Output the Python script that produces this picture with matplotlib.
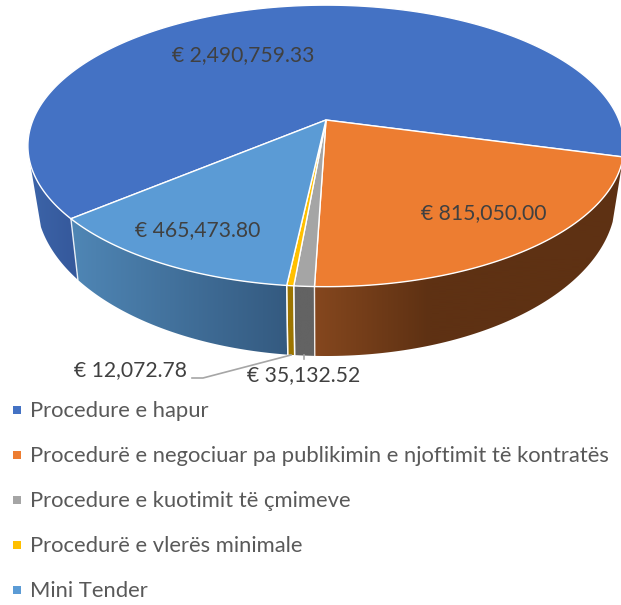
import numpy as np
import matplotlib
matplotlib.use('Agg')
import matplotlib.pyplot as plt
from matplotlib.colors import LinearSegmentedColormap
from matplotlib.patches import Polygon

names = ['Procedure e hapur',
         'Procedurë e negociuar pa publikimin e njoftimit të kontratës',
         'Procedure e kuotimit të çmimeve',
         'Procedurë e vlerës minimale',
         'Mini Tender']
values = [2490759.33, 815050.00, 35132.52, 12072.78, 465473.80]
top_colors = ['#4472c4', '#ed7d31', '#a5a5a5', '#ffc000', '#5b9bd5']
side_left = ['#3c64a8', '#85471e', '#636363', '#9c7500', '#4f86b5']
side_right = ['#35589b', '#5e3113', '#636363', '#9c7500', '#345a80']
label_pos = [(243, 55), (484, 213), (304, 375), (130, 370), (198, 230)]

# pie geometry in pixels, k is the perspective
end_first = -15.0
k = 0.184
cx = 326
top = (120, 293, 136)
bottom = (169, 285, 152.6)


def rim(theta, shape):
    cy, a, b = shape
    t = np.radians(theta)
    w = 1 + k * np.sin(t)
    return cx + a * np.cos(t) / w, cy - b * np.sin(t) / w


plt.rcParams['font.family'] = ['Lato', 'DejaVu Sans']
fig = plt.figure(figsize=(6.21, 6.05), dpi=100)
ax = fig.add_axes([0, 0, 1, 1])
ax.axis('off')

sweeps = np.array(values) / sum(values) * 360
starts = end_first + sweeps[0] - np.r_[0, np.cumsum(sweeps)[:-1]]
ends = starts - sweeps

# sides first, slice 0 is only the part on the left that can be seen
for i in [0, 4, 3, 2, 1]:
    a0, a1 = starts[i], ends[i]
    b0, b1 = a0, a1
    if i == 0:
        a0, a1 = a0 - 360, -162.5
        b0, b1 = a0, -159.2
    if i == 1:
        b0 = -19
    xt, yt = rim(np.linspace(a0, a1, 80), top)
    xb, yb = rim(np.linspace(b0, b1, 80), bottom)
    xs = np.r_[xt, xb[::-1]]
    ys = np.r_[yt, yb[::-1]]
    poly = Polygon(np.c_[xs, ys], closed=True, facecolor='none',
                   edgecolor='none', transform=ax.transData)
    ax.add_patch(poly)
    cmap = LinearSegmentedColormap.from_list('s', [side_left[i], side_right[i]])
    x0, x1 = xs.min(), xs.max()
    if i == 1:
        # orange side gets dark by the middle and stays that way
        grad = np.clip((np.arange(x0, x1 + 1) - x0) / 115, 0, 1)
        im = ax.imshow(grad[None, :], cmap=cmap, aspect='auto', vmin=0, vmax=1,
                       extent=[x0, x1 + 1, ys.max(), ys.min()], zorder=2)
    else:
        im = ax.imshow(np.linspace(0, 1, 128)[None, :], cmap=cmap, aspect='auto',
                       extent=[x0, x1, ys.max(), ys.min()], zorder=2)
    im.set_clip_path(poly)
    # white seam at the slice edges
    if i in (2, 3, 4):
        for a in (starts[i], ends[i]):
            xe, ye = rim(np.array([a]), top), rim(np.array([a]), bottom)
            ax.plot([xe[0][0], ye[0][0]], [xe[1][0], ye[1][0]],
                    color='white', lw=1.0, alpha=0.85, zorder=3)

# top faces
for i in range(len(values)):
    th = np.linspace(starts[i], ends[i], 300)
    x, y = rim(th, top)
    ax.fill(np.r_[cx, x], np.r_[top[0], y], facecolor=top_colors[i],
            edgecolor='white', lw=1.0, zorder=4)

# leader lines
ax.plot([291, 203, 192], [355, 378, 378], color='#a6a6a6', lw=1.2, zorder=3)
ax.plot([304, 304], [355, 359], color='#a6a6a6', lw=1.2, zorder=3)

for v, (lx, ly) in zip(values, label_pos):
    ax.text(lx, ly, f'€ {v:,.2f}', ha='center', va='center', fontsize=15.2,
            color='#404040', zorder=6)

# legend
legend_y = [410, 455, 500, 545, 590]
for name, c, ly in zip(names, top_colors, legend_y):
    ax.plot([17], [ly], marker='s', ms=5.8, mew=0, color=c)
    ax.text(30, ly + 1, name, ha='left', va='center', fontsize=15.8, color='#595959')

ax.set_xlim(0, 621)
ax.set_ylim(605, 0)
fig.savefig('out.png', dpi=100)
